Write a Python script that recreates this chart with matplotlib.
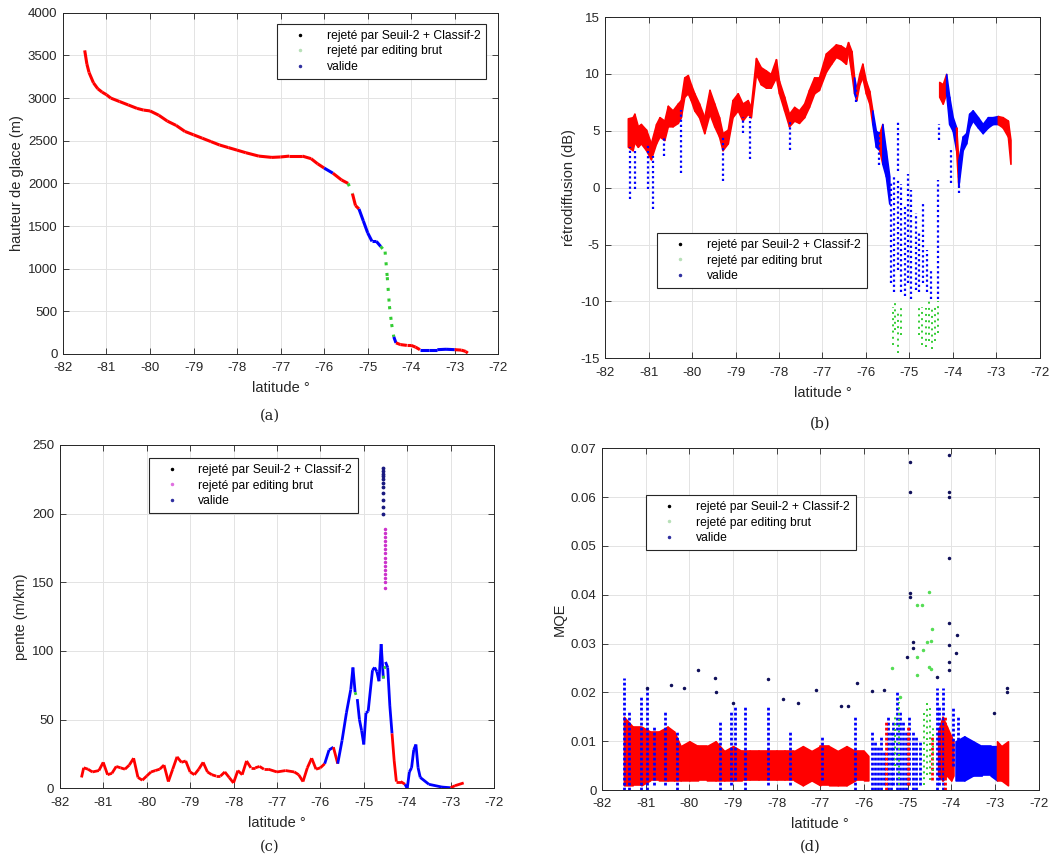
import matplotlib
matplotlib.use("Agg")
import matplotlib.pyplot as plt
from matplotlib.lines import Line2D
from matplotlib.ticker import FormatStrFormatter, MultipleLocator

plt.rcParams["font.family"] = ["Liberation Sans", "DejaVu Sans"]
plt.rcParams["axes.unicode_minus"] = False

# ----------------------------------------------------
# Data
# classes: v = valide, s = rejeté par Seuil-2 + Classif-2, e = rejeté par editing brut
# ----------------------------------------------------

legend_labels = ["rejeté par Seuil-2 + Classif-2", "rejeté par editing brut", "valide"]

# (a) hauteur de glace
a_lat = [-81.50, -81.45, -81.40, -81.30, -81.20, -81.10, -81.00, -80.90, -80.70, -80.50,
         -80.30, -80.15, -80.00, -79.80, -79.60, -79.40, -79.20, -79.00, -78.80, -78.60,
         -78.40, -78.20, -78.00, -77.80, -77.50, -77.20, -77.00, -76.80, -76.50, -76.30,
         -76.15, -76.00, -75.80, -75.60, -75.45, -75.35, -75.28, -75.20, -75.10, -75.00,
         -74.90, -74.80, -74.70, -74.60, -74.55, -74.50, -74.45, -74.40, -74.35, -74.25,
         -74.10, -74.00, -73.90, -73.80, -73.60, -73.40, -73.20, -73.00, -72.85, -72.75, -72.70]
a_h = [3560, 3400, 3300, 3180, 3110, 3070, 3040, 3000, 2960, 2920,
       2880, 2860, 2850, 2800, 2730, 2680, 2610, 2570, 2530, 2490,
       2450, 2420, 2390, 2360, 2320, 2305, 2310, 2320, 2320, 2290,
       2230, 2180, 2120, 2040, 2000, 1880, 1740, 1700, 1560, 1420,
       1320, 1320, 1260, 1200, 900, 560, 350, 200, 130, 110,
       100, 100, 80, 50, 50, 50, 55, 50, 45, 30, 10]
a_cls = list("vvvvvvvvvv" "vvvvvvvvvv" "vvvvvvvvvv" "vvsvvevvss"
             "ssseeeeesv" "vvvvssssvv" "v")

# (b) rétrodiffusion, dense band: two pieces
b1_lat = [-81.48, -81.37, -81.33, -81.25, -81.18, -81.06, -80.95, -80.83, -80.75, -80.64,
          -80.56, -80.45, -80.33, -80.26, -80.18, -80.10, -80.03, -79.95, -79.84, -79.72,
          -79.60, -79.49, -79.38, -79.30, -79.18, -79.07, -78.95, -78.84, -78.72, -78.65,
          -78.53, -78.42, -78.30, -78.19, -78.07, -78.00, -77.88, -77.77, -77.65, -77.54,
          -77.42, -77.31, -77.19, -77.08, -76.92, -76.80, -76.69, -76.58, -76.46, -76.41,
          -76.33, -76.27, -76.22, -76.15, -76.08, -76.00, -75.92, -75.85, -75.77, -75.69,
          -75.62, -75.54, -75.46]
b1_lo = [3.6, 3.3, 4.0, 3.6, 3.9, 3.3, 2.5, 3.9, 4.5, 4.2,
         5.4, 5.4, 5.7, 6.2, 8.0, 8.3, 7.7, 6.8, 6.2, 4.8,
         6.5, 5.4, 4.5, 3.3, 3.9, 6.2, 6.8, 5.9, 6.5, 6.2,
         10.0, 9.1, 8.8, 8.8, 9.7, 8.3, 6.8, 5.4, 5.9, 5.7,
         6.2, 7.1, 8.3, 8.6, 10.2, 10.9, 11.5, 11.3, 10.9, 12.0,
         10.0, 8.3, 7.7, 9.1, 9.7, 8.3, 7.4, 5.6, 3.6, 3.3,
         2.1, 1.0, -1.4]
b1_hi = [6.1, 6.2, 6.5, 5.4, 5.6, 5.1, 3.9, 5.6, 6.2, 5.9,
         7.2, 6.8, 7.4, 7.7, 9.7, 9.9, 9.1, 8.3, 7.4, 6.2,
         8.6, 7.4, 6.2, 4.8, 5.1, 7.7, 8.3, 7.4, 7.7, 7.1,
         11.4, 10.6, 10.3, 10.0, 11.3, 9.4, 8.0, 6.5, 7.1, 6.8,
         7.4, 8.6, 9.7, 9.7, 11.8, 12.2, 12.6, 12.5, 12.2, 12.8,
         12.0, 9.7, 8.7, 10.0, 10.9, 9.4, 8.5, 6.8, 5.0, 4.8,
         5.6, 3.3, 1.0]
b1_cls = list("vvvvvvvvvv" "vvvvvvvvvv" "vvvvvvvvvv" "vvvvvvvvvv" "vvvvvvvvvv"
              "vvsvvvvvss" "vss")
b2_lat = [-74.31, -74.23, -74.15, -74.08, -74.00, -73.92, -73.87, -73.77, -73.69, -73.62,
          -73.54, -73.42, -73.31, -73.19, -73.08, -72.96, -72.85, -72.73, -72.67]
b2_lo = [8.0, 7.4, 8.3, 5.6, 5.0, 3.3, 0.1, 3.3, 3.9, 5.3, 5.9, 5.3, 4.8, 5.3, 5.6, 5.6, 5.3, 4.5, 2.1]
b2_hi = [9.3, 9.1, 10.0, 8.0, 6.2, 5.3, 2.4, 4.5, 4.8, 6.5, 6.8, 6.2, 5.6, 6.2, 6.2, 6.3, 6.2, 5.9, 4.2]
b2_cls = list("vvvsssv" "sssssssss" "vvv")

# (b) sparse columns of points below the band
b_s_lat = [-81.44, -81.31, -81.02, -80.91, -80.64, -80.26, -79.28, -78.84, -78.67, -77.75,
           -76.22, -75.70, -75.42, -75.35, -75.25, -75.25, -75.19, -75.10, -75.02, -74.95,
           -74.85, -74.77, -74.69, -74.59, -74.50, -74.33, -74.31, -74.04, -73.85]
b_s_lo = [-1.0, -0.1, -0.1, -1.9, 2.8, 1.3, 0.6, 4.8, 2.5, 3.3,
          7.5, 2.0, -8.4, -9.2, 1.5, -7.2, -9.2, -9.5, -8.4, -9.8,
          -9.0, -9.2, -8.4, -9.2, -9.8, -9.8, 4.2, 0.4, -0.5]
b_s_hi = [3.6, 3.3, 3.9, 2.8, 4.5, 6.8, 4.5, 6.2, 6.2, 5.9,
          8.7, 5.0, 0.4, 1.0, 5.9, 0.7, 0.3, -1.4, 1.2, -0.2,
          -2.2, -4.0, -1.4, -5.5, -7.2, 0.7, 5.6, 3.3, 1.0]
b_e_lat = [-75.38, -75.32, -75.25, -75.18, -74.77, -74.70, -74.62, -74.55, -74.48, -74.40, -74.35]
b_e_lo = [-13.8, -12.5, -14.5, -13.0, -13.0, -13.8, -14.0, -13.5, -14.2, -13.5, -12.8]
b_e_hi = [-10.5, -10.0, -10.8, -10.2, -10.2, -10.5, -10.6, -10.0, -10.4, -10.2, -10.0]

# (c) pente
c_lat = [-81.50, -81.45, -81.35, -81.25, -81.10, -81.00, -80.90, -80.80, -80.70, -80.60,
         -80.50, -80.40, -80.30, -80.20, -80.10, -80.00, -79.90, -79.80, -79.70, -79.60,
         -79.50, -79.40, -79.30, -79.20, -79.10, -79.00, -78.90, -78.80, -78.70, -78.60,
         -78.50, -78.40, -78.30, -78.20, -78.10, -78.00, -77.90, -77.80, -77.70, -77.60,
         -77.50, -77.40, -77.30, -77.20, -77.00, -76.80, -76.60, -76.50, -76.40, -76.30,
         -76.20, -76.10, -76.00, -75.90, -75.80, -75.70, -75.60, -75.50, -75.40, -75.30,
         -75.25, -75.20, -75.15, -75.10, -75.05, -75.00, -74.95, -74.90, -74.80, -74.75,
         -74.70, -74.65, -74.60, -74.55, -74.50, -74.45, -74.40, -74.35, -74.30, -74.25,
         -74.15, -74.05, -74.00, -73.95, -73.90, -73.85, -73.80, -73.75, -73.70, -73.50,
         -73.20, -73.00, -72.90, -72.70]
c_val = [8, 15, 14, 12, 13, 19, 10, 11, 16, 15,
         14, 17, 22, 8, 6, 9, 12, 13, 14, 17,
         5, 14, 23, 19, 20, 12, 10, 14, 19, 12,
         10, 9, 9, 12, 8, 4, 13, 10, 20, 15,
         15, 16, 14, 14, 12, 13, 12, 10, 5, 15,
         22, 14, 15, 18, 28, 30, 18, 35, 55, 72,
         88, 70, 65, 50, 42, 32, 55, 56, 86, 88,
         85, 78, 105, 80, 92, 88, 60, 40, 20, 5,
         5, 3, 0, 12, 15, 28, 32, 15, 8, 3,
         1, 0.5, 2, 4]
c_cls = list("vvvvvvvvvv" "vvvvvvvvvv" "vvvvvvvvvv" "vvvvvvvvvv" "vvvvvvvvvv"
             "vvvvssvsss" "ssesssssss" "ssssesssvv" "vvssssssss" "ssvv")
c_top_val = [233, 231, 229, 227, 225, 222, 219, 215, 210, 205, 200]
c_mid_val = [189, 186, 183, 180, 177, 174, 171, 168, 165, 162, 159, 156, 153, 150, 146]

# (d) MQE, dense band
d_lat = [-81.50, -81.30, -81.10, -80.90, -80.70, -80.50, -80.35, -80.20, -80.00, -79.80,
         -79.60, -79.40, -79.20, -79.00, -78.80, -78.60, -78.40, -78.20, -78.00, -77.80,
         -77.60, -77.40, -77.20, -77.00, -76.80, -76.60, -76.40, -76.20, -76.00, -75.90]
d_lo = [0.001, 0.001, 0.001, 0.002, 0.002, 0.002, 0.002, 0.002, 0.002, 0.002,
        0.002, 0.002, 0.002, 0.002, 0.002, 0.002, 0.002, 0.002, 0.002, 0.002,
        0.002, 0.001, 0.002, 0.001, 0.001, 0.001, 0.001, 0.002, 0.002, 0.002]
d_hi = [0.015, 0.013, 0.013, 0.012, 0.012, 0.013, 0.012, 0.009, 0.010, 0.009,
        0.009, 0.010, 0.008, 0.009, 0.008, 0.008, 0.008, 0.008, 0.008, 0.008,
        0.008, 0.009, 0.008, 0.009, 0.009, 0.008, 0.009, 0.008, 0.008, 0.007]
d2_lat = [-74.30, -74.20, -74.10, -74.00, -73.95]
d2_lo = [0.003, 0.002, 0.003, 0.002, 0.003]
d2_hi = [0.012, 0.015, 0.013, 0.011, 0.010]
d3_lat = [-73.90, -73.70, -73.50, -73.30, -73.10, -72.95]
d3_lo = [0.002, 0.002, 0.003, 0.003, 0.003, 0.002]
d3_hi = [0.010, 0.011, 0.010, 0.009, 0.009, 0.009]
d4_lat = [-72.95, -72.85, -72.70]
d4_lo = [0.002, 0.002, 0.001]
d4_hi = [0.010, 0.009, 0.010]

# (d) columns of rejected points
d_s_lat = [-81.50, -81.38, -81.10, -80.97, -80.80, -80.55, -80.28, -79.30, -79.05, -78.95,
           -78.72, -78.20, -77.70, -76.95, -76.20, -75.82, -75.75, -75.68, -75.62, -75.55,
           -75.44, -75.38, -75.33, -75.25, -75.17, -75.10, -75.03, -74.96, -74.87, -74.80,
           -74.72, -74.33, -74.27, -74.20, -73.95, -73.85]
d_s_lo = [0.000, 0.000, 0.000, 0.000, 0.001, 0.001, 0.000, 0.000, 0.001, 0.002,
          0.000, 0.001, 0.001, 0.002, 0.000, 0.000, 0.000, 0.000, 0.000, 0.001,
          0.000, 0.000, 0.001, 0.000, 0.000, 0.000, 0.000, 0.001, 0.000, 0.000,
          0.001, 0.000, 0.001, 0.000, 0.005, 0.002]
d_s_hi = [0.023, 0.016, 0.019, 0.021, 0.013, 0.016, 0.012, 0.014, 0.016, 0.017,
          0.017, 0.017, 0.012, 0.011, 0.015, 0.012, 0.010, 0.009, 0.011, 0.008,
          0.015, 0.012, 0.014, 0.020, 0.016, 0.014, 0.012, 0.015, 0.012, 0.011,
          0.010, 0.021, 0.017, 0.021, 0.017, 0.015]
d_v_lat = [-75.50, -75.00, -74.45, -74.15]
d_v_lo = [0.000, 0.001, 0.002, 0.000]
d_v_hi = [0.014, 0.013, 0.011, 0.015]
d_e_lat = [-75.30, -75.20, -74.62, -74.55, -74.48, -74.42]
d_e_lo = [0.005, 0.001, 0.001, 0.003, 0.002, 0.004]
d_e_hi = [0.015, 0.018, 0.016, 0.018, 0.017, 0.013]
d_out_lat = [-74.94, -74.94, -74.06, -74.06, -74.06, -74.06, -74.94, -74.94, -74.06, -74.06,
             -73.87, -74.88, -74.88, -75.02, -74.06, -74.06, -73.88, -79.80, -79.42, -79.40,
             -78.20, -76.17, -80.43, -80.12, -80.97, -77.10, -75.82, -75.55, -72.73, -73.03,
             -79.00, -77.86, -77.50, -76.53, -76.36, -74.33, -72.73]
d_out_val = [0.0671, 0.0611, 0.0686, 0.0611, 0.0600, 0.0476, 0.0404, 0.0396, 0.0343, 0.0297,
             0.0318, 0.0303, 0.0290, 0.0273, 0.0263, 0.0246, 0.0280, 0.0246, 0.0229, 0.0200,
             0.0227, 0.0220, 0.0215, 0.0210, 0.0210, 0.0205, 0.0203, 0.0205, 0.0210, 0.0157,
             0.0179, 0.0186, 0.0178, 0.0172, 0.0172, 0.0232, 0.0200]
d_green_lat = [-74.79, -74.68, -74.52, -74.56, -74.43, -74.47, -74.64, -74.79, -74.50, -74.46,
               -75.36, -74.79, -75.17]
d_green_val = [0.0379, 0.0380, 0.0406, 0.0304, 0.0329, 0.0306, 0.0287, 0.0272, 0.0253, 0.0247,
               0.0251, 0.0236, 0.0190]

# ----------------------------------------------------
# Style
# ----------------------------------------------------

colors = {"v": "#ff0000", "s": "#0000ff", "e": "#33cc33"}
axis_col = "#262626"

fig = plt.figure(figsize=(10.49, 8.57), dpi=100)

positions = [
    [0.060, 0.587, 0.415, 0.398],
    [0.577, 0.582, 0.414, 0.398],
    [0.057, 0.080, 0.414, 0.401],
    [0.574, 0.078, 0.416, 0.399],
]

axes = [fig.add_axes(p) for p in positions]


def style_axis(ax, ylabel):
    ax.set_xlim(-82, -72)
    ax.xaxis.set_major_locator(MultipleLocator(1))
    ax.grid(True, color="#e3e3e3", linewidth=0.7)
    ax.set_axisbelow(True)
    ax.tick_params(direction="in", top=True, right=True, labelsize=9.5,
                   colors=axis_col, length=4, width=0.6)
    ax.tick_params(axis="x", pad=6)
    ax.tick_params(axis="y", pad=4)
    for s in ax.spines.values():
        s.set_color(axis_col)
        s.set_linewidth(0.7)
    ax.set_xlabel("latitude °", fontsize=10.5, color=axis_col, labelpad=5)
    ax.set_ylabel(ylabel, fontsize=10.5, color=axis_col, labelpad=3)


def add_legend(ax, second_color, loc):
    handles = [
        Line2D([], [], ls="none", marker=".", ms=3, color="black"),
        Line2D([], [], ls="none", marker=".", ms=3, color=second_color),
        Line2D([], [], ls="none", marker=".", ms=3, color="#3030a0"),
    ]
    leg = ax.legend(handles, legend_labels, loc="upper left", bbox_to_anchor=loc,
                    borderaxespad=0, fontsize=8.7, frameon=True, fancybox=False,
                    framealpha=1, edgecolor=axis_col, handlelength=2.8,
                    handletextpad=0.8, borderpad=0.5, labelspacing=0.3)
    leg.get_frame().set_linewidth(0.8)


def draw_profile(ax, lat, val, cls, lw):
    for i in range(1, len(lat)):
        ls = (0, (1, 2.5)) if cls[i] == "e" else "-"
        ax.plot(lat[i - 1:i + 1], val[i - 1:i + 1], color=colors[cls[i]],
                lw=lw, ls=ls, solid_capstyle="butt")


def draw_band(ax, lat, lo, hi, cls):
    for i in range(1, len(lat)):
        c = colors[cls[i]] if isinstance(cls, list) else colors[cls]
        ax.fill_between(lat[i - 1:i + 1], lo[i - 1:i + 1], hi[i - 1:i + 1],
                        color=c, lw=1.2, edgecolor=c)


# ----------------------------------------------------
# (a)
# ----------------------------------------------------

ax = axes[0]
draw_profile(ax, a_lat, a_h, a_cls, 2.2)
ax.set_ylim(0, 4000)
ax.yaxis.set_major_locator(MultipleLocator(500))
style_axis(ax, "hauteur de glace (m)")
add_legend(ax, "#b8e0b8", (0.492, 0.968))

# ----------------------------------------------------
# (b)
# ----------------------------------------------------

ax = axes[1]
ax.vlines(b_s_lat, b_s_lo, b_s_hi, color=colors["s"], lw=1.6, linestyles=(0, (1, 1.3)))
ax.vlines(b_e_lat, b_e_lo, b_e_hi, color=colors["e"], lw=1.4, linestyles=(0, (1, 2.2)))
draw_band(ax, b1_lat, b1_lo, b1_hi, b1_cls)
draw_band(ax, b2_lat, b2_lo, b2_hi, b2_cls)
ax.set_ylim(-15, 15)
ax.yaxis.set_major_locator(MultipleLocator(5))
style_axis(ax, "rétrodiffusion (dB)")
add_legend(ax, "#b8e0b8", (0.12, 0.367))

# ----------------------------------------------------
# (c)
# ----------------------------------------------------

ax = axes[2]
draw_profile(ax, c_lat, c_val, c_cls, 2.0)
ax.plot([-74.56] * len(c_top_val), c_top_val, ls="none", marker=".", ms=3.5, color="#1a1a80")
ax.plot([-74.52] * len(c_mid_val), c_mid_val, ls="none", marker=".", ms=3, color="#cc33cc")
ax.set_ylim(0, 250)
ax.yaxis.set_major_locator(MultipleLocator(50))
style_axis(ax, "pente (m/km)")
add_legend(ax, "#e070e0", (0.205, 0.962))

# ----------------------------------------------------
# (d)
# ----------------------------------------------------

ax = axes[3]
draw_band(ax, d_lat, d_lo, d_hi, "v")
draw_band(ax, d2_lat, d2_lo, d2_hi, "v")
draw_band(ax, d3_lat, d3_lo, d3_hi, "s")
draw_band(ax, d4_lat, d4_lo, d4_hi, "v")
ax.vlines(d_s_lat, d_s_lo, d_s_hi, color=colors["s"], lw=2.0, linestyles=(0, (1, 0.8)))
ax.vlines(d_v_lat, d_v_lo, d_v_hi, color=colors["v"], lw=2.0, linestyles=(0, (1, 0.8)))
ax.vlines(d_e_lat, d_e_lo, d_e_hi, color=colors["e"], lw=1.4, linestyles=(0, (1, 2.0)))
ax.plot(d_green_lat, d_green_val, ls="none", marker=".", ms=3, color="#55dd55")
ax.plot(d_out_lat, d_out_val, ls="none", marker=".", ms=3, color="#10105a")
ax.set_ylim(0, 0.07)
ax.yaxis.set_major_locator(MultipleLocator(0.01))
ax.yaxis.set_major_formatter(FormatStrFormatter("%g"))
style_axis(ax, "MQE")
add_legend(ax, "#b8e0b8", (0.101, 0.863))

# ----------------------------------------------------
# Captions
# ----------------------------------------------------

for x, y, t in [(0.257, 0.515, "(a)"), (0.782, 0.506, "(b)"),
                (0.257, 0.012, "(c)"), (0.772, 0.012, "(d)")]:
    fig.text(x, y, t, ha="center", va="center", fontsize=10.5,
             family=["DejaVu Serif"], color="#222222")

fig.savefig("out.png", dpi=100)
